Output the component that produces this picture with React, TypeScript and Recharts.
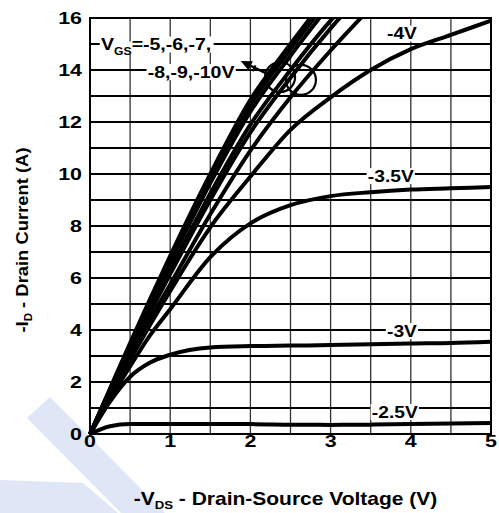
import React from "react";
import {
  CartesianGrid,
  Line,
  LineChart,
  ReferenceArea,
  ReferenceDot,
  ReferenceLine,
  XAxis,
  YAxis,
} from "recharts";

// -VDS sample points (V)
const vds = [0, 0.25, 0.5, 0.75, 1, 1.5, 2, 2.5, 3, 3.5, 4, 4.5, 5];

// -ID (A) for each gate voltage
const id10 = [0, 1.75, 3.5, 5.2, 6.85, 10.0, 12.85, 15.0, 17.0, null, null, null, null];
const id9 = [0, 1.72, 3.44, 5.1, 6.72, 9.85, 12.65, 14.8, 16.8, null, null, null, null];
const id8 = [0, 1.69, 3.38, 5.0, 6.58, 9.65, 12.4, 14.55, 16.55, null, null, null, null];
const id7 = [0, 1.62, 3.24, 4.8, 6.3, 9.25, 11.9, 14.0, 15.9, 17.5, null, null, null];
const id6 = [0, 1.58, 3.15, 4.68, 6.15, 9.0, 11.6, 13.7, 15.6, 17.3, null, null, null];
const id5 = [0, 1.5, 2.95, 4.4, 5.75, 8.45, 10.9, 12.95, 14.75, 16.4, null, null, null];
const id4 = [0, 1.45, 2.85, 4.2, 5.5, 7.95, 9.9, 11.7, 12.95, 14.0, 14.8, 15.35, 15.9];
const id35 = [0, 1.35, 2.6, 3.8, 4.8, 6.8, 8.1, 8.8, 9.15, 9.3, 9.4, 9.45, 9.5];
const id3 = [0, 1.25, 2.2, 2.75, 3.05, 3.33, 3.38, 3.4, 3.42, 3.45, 3.48, 3.5, 3.55];
const id25 = [0, 0.3, 0.38, 0.38, 0.38, 0.38, 0.38, 0.36, 0.35, 0.36, 0.38, 0.4, 0.42];

const seriesKeys = ["g10", "g9", "g8", "g7", "g6", "g5", "g4", "g35", "g3", "g25"];
const seriesValues = [id10, id9, id8, id7, id6, id5, id4, id35, id3, id25];

const xTicks = [0, 0.5, 1, 1.5, 2, 2.5, 3, 3.5, 4, 4.5, 5];
const yTicks = [0, 1, 2, 3, 4, 5, 6, 7, 8, 9, 10, 11, 12, 13, 14, 15, 16];

// curve labels: text, x, y (data units)
const curveLabels: [string, number, number][] = [
  ["-4V", 3.89, 15.4],
  ["-3.5V", 3.75, 9.92],
  ["-3V", 3.89, 3.96],
  ["-2.5V", 3.8, 0.85],
];

const data = vds.map((v, i) => {
  const row: Record<string, number | null> = { vds: v };
  seriesKeys.forEach((k, j) => (row[k] = seriesValues[j][i]));
  return row;
});

const FONT = "'Liberation Sans', Arial, sans-serif";
const SX = 1.2;

// rough Arial bold advance widths (em)
const charW: Record<string, number> = { "-": 0.333, ".": 0.278, ",": 0.278, V: 0.667, "=": 0.584 };
const textW = (s: string, size: number) =>
  s.split("").reduce((a, c) => a + (charW[c] ?? 0.556), 0) * size;

const YTick = (p: any) => {
  const v = p.payload.value;
  if (v % 2 !== 0) return <g />;
  return (
    <text
      transform={`translate(${p.x},${p.y}) scale(1.3,1)`}
      textAnchor="end"
      dy="0.36em"
      fontFamily={FONT}
      fontWeight="bold"
      fontSize={16.5}
      fill="#000"
    >
      {v}
    </text>
  );
};

const XTick = (p: any) => {
  const v = p.payload.value;
  if (!Number.isInteger(v)) return <g />;
  return (
    <text
      transform={`translate(${p.x},${p.y}) scale(1.3,1)`}
      textAnchor="middle"
      dy="0.71em"
      fontFamily={FONT}
      fontWeight="bold"
      fontSize={16.5}
      fill="#000"
    >
      {v}
    </text>
  );
};

const textLabel = (text: string) => (p: any) => {
  const w = textW(text, 16);
  return (
    <g transform={`translate(${p.cx},${p.cy}) scale(${SX},1)`}>
      <rect x={-w / 2 - 1} y={-8} width={w + 2} height={16} fill="#fff" />
      <text textAnchor="middle" dy="0.36em" fontFamily={FONT} fontWeight="bold" fontSize={16} fill="#000">
        {text}
      </text>
    </g>
  );
};

const vgsLine1 = (p: any) => (
  <g transform={`translate(${p.cx},${p.cy}) scale(1.22,1)`}>
    <rect x={-1} y={-8} width={12} height={16} fill="#fff" />
    <rect x={10} y={-3} width={16} height={13} fill="#fff" />
    <rect x={25} y={-8} width={textW("=-5,-6,-7,", 16) + 2} height={16} fill="#fff" />
    <text textAnchor="start" dy="0.36em" fontFamily={FONT} fontWeight="bold" fontSize={16} fill="#000">
      <tspan>V</tspan>
      <tspan fontSize={10} dy={5}>GS</tspan>
      <tspan dy={-5}>=-5,-6,-7,</tspan>
    </text>
  </g>
);

const vgsLine2 = (p: any) => (
  <g transform={`translate(${p.cx},${p.cy}) scale(1.22,1)`}>
    <rect x={-1} y={-8} width={textW("-8,-9,-10V", 16) + 2} height={16} fill="#fff" />
    <text textAnchor="start" dy="0.36em" fontFamily={FONT} fontWeight="bold" fontSize={16} fill="#000">
      -8,-9,-10V
    </text>
  </g>
);

const Arrow = (p: any) => {
  const { x1, y1, x2, y2 } = p;
  const ang = Math.atan2(y2 - y1, x2 - x1);
  const len = 11;
  const w = 5;
  const bx = x2 - len * Math.cos(ang);
  const by = y2 - len * Math.sin(ang);
  const nx = -Math.sin(ang) * w;
  const ny = Math.cos(ang) * w;
  const mx = x1 + (x2 - x1) * 0.45;
  const my = y1 + (y2 - y1) * 0.45;
  return (
    <g>
      <line x1={x1} y1={y1} x2={bx} y2={by} stroke="#000" strokeWidth={2.5} />
      <polygon points={`${x2},${y2} ${bx + nx},${by + ny} ${bx - nx},${by - ny}`} fill="#000" />
      <line x1={mx - nx * 0.8} y1={my - ny * 0.8} x2={mx + nx * 0.5} y2={my + ny * 0.5} stroke="#000" strokeWidth={2} />
    </g>
  );
};

const XTitle = (p: any) => {
  const vb = p.viewBox;
  const cx = vb.x + vb.width / 2;
  return (
    <text
      transform={`translate(${cx - 5},505) scale(1.2,1)`}
      textAnchor="middle"
      fontFamily={FONT}
      fontWeight="bold"
      fontSize={17.5}
      fill="#000"
    >
      <tspan>-V</tspan>
      <tspan fontSize={11} dy={4}>DS</tspan>
      <tspan dy={-4}> - Drain-Source Voltage (V)</tspan>
    </text>
  );
};

const YTitle = () => (
  <text
    transform="translate(22,240) rotate(-90) scale(1.15,1)"
    textAnchor="middle"
    dy="0.36em"
    fontFamily={FONT}
    fontWeight="bold"
    fontSize={16}
    fill="#000"
  >
    <tspan>-I</tspan>
    <tspan fontSize={10} dy={4}>D</tspan>
    <tspan dy={-4}> - Drain Current (A)</tspan>
  </text>
);

export default function App() {
  return (
    <div style={{ position: "absolute", left: 0, top: 0, width: 499, height: 513, background: "#fff" }}>
      <svg width={499} height={513} style={{ position: "absolute", left: 0, top: 0 }}>
        <polygon points="27,418 50,397 165,513 121,513" fill="#dfe7f6" />
        <polygon points="0,480 83,483 118,513 0,513" fill="#dfe7f6" />
      </svg>
      <div style={{ position: "absolute", left: 0, top: 0 }}>
        <LineChart width={499} height={513} data={data} margin={{ top: 18, right: 8, left: 30, bottom: 49 }}>
          <CartesianGrid horizontal={false} stroke="#333" strokeWidth={1.3} />
          <CartesianGrid vertical={false} stroke="#000" strokeWidth={1.8} />
          <XAxis
            dataKey="vds"
            type="number"
            domain={[0, 5]}
            ticks={xTicks}
            interval={0}
            tickLine={false}
            axisLine={false}
            tickSize={0}
            tickMargin={1}
            tick={XTick}
            height={30}
            label={{ content: XTitle }}
          />
          <YAxis
            type="number"
            domain={[0, 16]}
            ticks={yTicks}
            interval={0}
            allowDataOverflow
            tickLine={false}
            axisLine={false}
            tickSize={0}
            tickMargin={8}
            tick={YTick}
            width={60}
            label={{ content: YTitle }}
          />
          <ReferenceArea x1={0} x2={5} y1={0} y2={16} fill="none" stroke="#000" strokeWidth={2} strokeOpacity={1} fillOpacity={0} />
          {seriesKeys.map((k) => (
            <Line
              key={k}
              type="monotone"
              dataKey={k}
              stroke="#000"
              strokeWidth={4}
              dot={false}
              activeDot={false}
              isAnimationActive={false}
            />
          ))}
          <ReferenceDot x={2.37} y={13.73} r={15} fill="none" stroke="#000" strokeWidth={2.2} />
          <ReferenceDot x={2.63} y={13.62} r={15} fill="none" stroke="#000" strokeWidth={2.2} />
          <ReferenceLine
            segment={[
              { x: 2.19, y: 13.88 },
              { x: 1.88, y: 14.35 },
            ]}
            shape={Arrow}
          />
          <ReferenceDot x={0.137} y={14.98} r={1} shape={vgsLine1} />
          <ReferenceDot x={0.72} y={13.92} r={1} shape={vgsLine2} />
          {curveLabels.map(([t, x, y]) => (
            <ReferenceDot key={t} x={x} y={y} r={1} shape={textLabel(t)} />
          ))}
        </LineChart>
      </div>
    </div>
  );
}
